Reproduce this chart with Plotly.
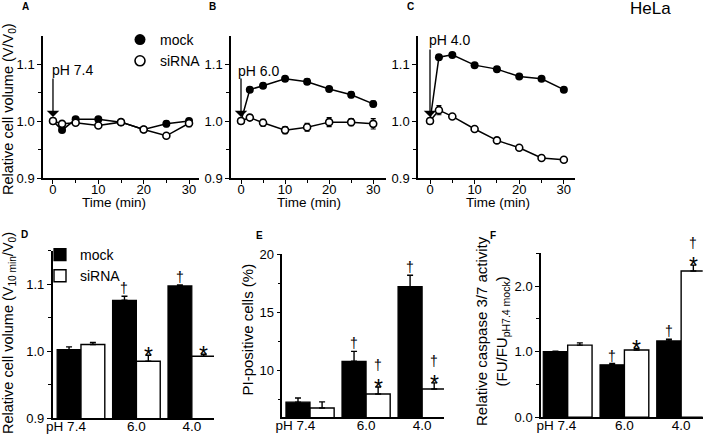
import plotly.graph_objects as go

W, H = 709, 436
FONT = "Liberation Sans, Arial, Helvetica, sans-serif"

# ---------------- data: time courses (A-C) ----------------
time_min = [0, 2, 5, 10, 15, 20, 25, 30]
A_mock = [1.0, 0.984, 1.003, 1.003, 0.998, 0.985, 0.995, 1.0]
A_mock_err = [0, 0.004, 0.003, 0.003, 0.003, 0.002, 0.005, 0.003]
A_sirna = [1.0, 0.995, 0.997, 0.992, 0.998, 0.985, 0.974, 0.996]
A_sirna_err = [0, 0.004, 0.003, 0.003, 0.002, 0.002, 0.003, 0.006]
B_mock = [1.0, 1.055, 1.062, 1.074, 1.069, 1.056, 1.046, 1.030]
B_mock_err = [0, 0.004, 0.004, 0.004, 0.005, 0.003, 0.005, 0.005]
B_sirna = [1.0, 1.006, 0.997, 0.984, 0.989, 0.998, 0.998, 0.995]
B_sirna_err = [0, 0.005, 0.006, 0.006, 0.007, 0.008, 0.006, 0.009]
C_mock = [1.0, 1.112, 1.116, 1.098, 1.091, 1.078, 1.074, 1.055]
C_mock_err = [0, 0.003, 0.003, 0.003, 0.003, 0.003, 0.003, 0.003]
C_sirna = [1.0, 1.019, 1.008, 0.986, 0.966, 0.953, 0.935, 0.932]
C_sirna_err = [0, 0.008, 0.003, 0.003, 0.004, 0.003, 0.003, 0.004]
ph_labels_top = ["pH 7.4", "pH 6.0", "pH 4.0"]

# ---------------- data: bar panels (D-F) ----------------
bar_cats = ["pH 7.4", "6.0", "4.0"]
D_mock = [1.0025, 1.076, 1.0975]
D_mock_err = [0.004, 0.006, 0.0015]
D_sirna = [1.010, 0.985, 0.9925]
D_sirna_err = [0.003, 0.009, 0.003]
D_mock_sig = ["", "†", "†"]
D_sirna_sig = ["", "*", "*"]

E_mock = [7.3, 10.8, 17.2]
E_mock_err = [0.36, 0.85, 0.98]
E_sirna = [6.8, 8.0, 8.43]
E_sirna_err = [0.52, 0.6, 0.52]
E_mock_sig = ["", "†", "†"]
E_sirna_sig = ["", "†*", "†*"]

F_mock = [1.0, 0.8, 1.165]
F_mock_err = [0.008, 0.02, 0.025]
F_sirna = [1.10, 1.025, 2.23]
F_sirna_err = [0.035, 0.025, 0.09]
F_mock_sig = ["", "†", "†"]
F_sirna_sig = ["", "*", "†*"]


def px_x(x):
    return x / W


def px_y(y):
    return 1 - y / H


fig = go.Figure()

# ---------- top row traces ----------
top = [
    (A_mock, A_mock_err, A_sirna, A_sirna_err, "x", "y"),
    (B_mock, B_mock_err, B_sirna, B_sirna_err, "x2", "y2"),
    (C_mock, C_mock_err, C_sirna, C_sirna_err, "x3", "y3"),
]
for mk, mke, si, sie, xa, ya in top:
    fig.add_trace(go.Scatter(
        x=time_min, y=mk, mode="lines+markers", xaxis=xa, yaxis=ya,
        line=dict(color="black", width=1.5),
        marker=dict(symbol="circle", size=8, color="black"),
        error_y=dict(type="data", array=mke, color="black", thickness=1.2, width=2.5),
        showlegend=False))
    fig.add_trace(go.Scatter(
        x=time_min, y=si, mode="lines+markers", xaxis=xa, yaxis=ya,
        line=dict(color="black", width=1.5),
        marker=dict(symbol="circle", size=7, color="white", line=dict(color="black", width=1.6)),
        error_y=dict(type="data", array=sie, color="black", thickness=1.2, width=2.5),
        showlegend=False))

# legend keys for panel A
fig.add_trace(go.Scatter(x=[None], y=[None], mode="markers", name="mock",
                         marker=dict(size=11, color="black"), legend="legend",
                         xaxis="x", yaxis="y"))
fig.add_trace(go.Scatter(x=[None], y=[None], mode="markers", name="siRNA",
                         marker=dict(size=10, color="white", line=dict(color="black", width=1.6)),
                         legend="legend", xaxis="x", yaxis="y"))

# ---------- bottom row bars ----------
BW = 0.43
bottom = [
    (D_mock, D_mock_err, D_sirna, D_sirna_err, D_mock_sig, D_sirna_sig, "x4", "y4", True),
    (E_mock, E_mock_err, E_sirna, E_sirna_err, E_mock_sig, E_sirna_sig, "x5", "y5", False),
    (F_mock, F_mock_err, F_sirna, F_sirna_err, F_mock_sig, F_sirna_sig, "x6", "y6", False),
]
annotations = []
for mk, mke, si, sie, mks, sis, xa, ya, leg in bottom:
    xs = list(range(len(bar_cats)))
    fig.add_trace(go.Bar(
        x=xs, y=mk, name="mock", offset=-BW, width=BW, xaxis=xa, yaxis=ya,
        marker=dict(color="black", line=dict(color="black", width=1.2)),
        error_y=dict(type="data", symmetric=False, array=mke, arrayminus=[0] * len(mk),
                     color="black", thickness=1.4, width=3),
        showlegend=leg, legend="legend2"))
    fig.add_trace(go.Bar(
        x=xs, y=si, name="siRNA", offset=0, width=BW, xaxis=xa, yaxis=ya,
        marker=dict(color="white", line=dict(color="black", width=1.4)),
        error_y=dict(type="data", symmetric=False, array=sie, arrayminus=[0] * len(si),
                     color="black", thickness=1.4, width=3),
        showlegend=leg, legend="legend2"))
    for vals, errs, sigs, off in ((mk, mke, mks, -BW), (si, sie, sis, 0)):
        for i, (v, e, s) in enumerate(zip(vals, errs, sigs)):
            shift = 0
            for ch in reversed(s):
                big = ch == "*"
                annotations.append(dict(
                    x=i + off + BW / 2, y=v + e, xref=xa, yref=ya, text=ch,
                    showarrow=False, yanchor="middle",
                    yshift=shift + (-1 if big else 8),
                    font=dict(size=23 if big else 14, color="#000000", family=FONT)))
                shift += 14

# ---------- axes ----------
axis_common = dict(showline=True, linecolor="black", linewidth=1.5, ticks="outside",
                   ticklen=4, tickwidth=1.2, tickcolor="black", showgrid=False,
                   zeroline=False, automargin=False,
                   tickfont=dict(size=13, color="black", family=FONT))

top_dom_x = [(43, 199, -2.2, 32.2), (231, 386, -2.27, 32.9), (418, 575, -2.69, 32.5)]
top_dom_y = (35.5, 178)
layout = {}
for k, (x0, x1, r0, r1) in enumerate(top_dom_x):
    n = "" if k == 0 else str(k + 1)
    layout["xaxis" + n] = dict(axis_common, domain=[px_x(x0), px_x(x1)], range=[r0, r1],
                               anchor="y" + n, tickvals=[0, 10, 20, 30],
                               ticklabelstandoff=-5,
                               minor=dict(tickvals=[5, 15, 25], ticks="outside", ticklen=3,
                                          tickwidth=1.2, tickcolor="black"))
    layout["yaxis" + n] = dict(axis_common, domain=[px_y(top_dom_y[1]), px_y(top_dom_y[0])],
                               range=[0.9, 1.15], anchor="x" + n,
                               tickvals=[0.9, 1.0, 1.1], tickformat=".1f",
                               minor=dict(tickvals=[0.95, 1.05], ticks="outside", ticklen=3,
                                          tickwidth=1.2, tickcolor="black"))

bot = [
    (52.7, 214, -0.51, 2.40, 250.7, 418.3, [0.9, 1.15], [0.9, 1.0, 1.1], [0.95, 1.05, 1.15], -0.27),
    (282.3, 444, -0.495, 2.39, 254, 417.3, [6, 20], [10, 15, 20], [7.5, 12.5, 17.5], -0.26),
    (541, 702.7, -0.47, 2.38, 253.3, 417.3, [0, 2.5], [0, 1, 2], [0.5, 1.5, 2.5], -0.2),
]
for k, (x0, x1, r0, r1, y0, y1, yr, ytv, ymin, lshift) in enumerate(bot):
    n = str(k + 4)
    tv = [i + (lshift if i == 0 else 0) for i in range(len(bar_cats))]
    layout["xaxis" + n] = dict(axis_common, domain=[px_x(x0), px_x(x1)], range=[r0, r1],
                               anchor="y" + n, ticks="", tickvals=tv, ticktext=bar_cats,
                               ticklabelstandoff=-5,
                               tickfont=dict(size=13.5, color="black", family=FONT))
    yfmt = ".1f" if k != 1 else "d"
    layout["yaxis" + n] = dict(axis_common, domain=[px_y(y1), px_y(y0)], range=yr,
                               anchor="x" + n, tickvals=ytv, tickformat=yfmt,
                               minor=dict(tickvals=ymin, ticks="outside", ticklen=3,
                                          tickwidth=1.2, tickcolor="black"))

# ---------- text annotations ----------
def paper_text(x, y, text, size, bold=False, angle=0, xanchor="center"):
    annotations.append(dict(x=px_x(x), y=px_y(y), xref="paper", yref="paper",
                            text=("<b>%s</b>" % text) if bold else text, showarrow=False,
                            textangle=angle, xanchor=xanchor, yanchor="middle",
                            font=dict(size=size, color="black", family=FONT)))

for letter, (lx, ly) in zip("ABCDEF", [(25, 6), (213, 6), (410, 6), (24.5, 234), (259, 235), (493, 235)]):
    paper_text(lx, ly, letter, 10, bold=True)
paper_text(650, 8, "HeLa", 17)

for cx in (114, 309, 498):
    paper_text(cx, 203, "Time (min)", 13.5)

paper_text(9, 109, "Relative cell volume (V/V<sub>0</sub>)", 14.5, angle=-90)
paper_text(9, 333, "Relative cell volume (V<sub>10 min</sub>/V<sub>0</sub>)", 14.5, angle=-90)
paper_text(246.5, 330, "PI-positive cells (%)", 15, angle=-90)
paper_text(492, 331, "Relative caspase 3/7 activity<br>(FU/FU<sub>pH7.4 mock</sub>)", 15, angle=-90)

# pH labels and arrows on the time-course panels
for k, (lab, (xs, ys, ay)) in enumerate(zip(ph_labels_top, [(-3, 51, -44), (-5, 50, -44), (-3, 81, -73)])):
    n = "" if k == 0 else str(k + 1)
    annotations.append(dict(x=time_min[0], y=A_mock[0], xref="x" + n, yref="y" + n, text=lab,
                            showarrow=False, xanchor="left", yanchor="middle",
                            xshift=xs, yshift=ys, font=dict(size=14, color="black", family=FONT)))
    annotations.append(dict(x=time_min[0], y=A_mock[0], xref="x" + n, yref="y" + n, text="",
                            showarrow=True, ax=0, ay=ay, axref="pixel", ayref="pixel",
                            arrowhead=1, arrowsize=1.6, arrowwidth=1.3, arrowcolor="black",
                            standoff=4))

fig.update_layout(
    template="none",
    width=W, height=H, margin=dict(l=0, r=0, t=0, b=0, autoexpand=False),
    paper_bgcolor="white", plot_bgcolor="white", barmode="overlay",
    font=dict(family=FONT, color="black"),
    annotations=annotations,
    legend=dict(x=px_x(120), y=px_y(24), xanchor="left", yanchor="top",
                bgcolor="rgba(0,0,0,0)", font=dict(size=14, family=FONT, color="black"),
                itemwidth=30, tracegroupgap=0),
    legend2=dict(x=px_x(40), y=px_y(239), xanchor="left", yanchor="top",
                 bgcolor="rgba(0,0,0,0)", font=dict(size=14, family=FONT, color="black"),
                 itemwidth=30, tracegroupgap=0),
    **layout,
)

fig.write_html("out.html", config={"displayModeBar": False},
               post_script="document.body.style.margin='0';")
